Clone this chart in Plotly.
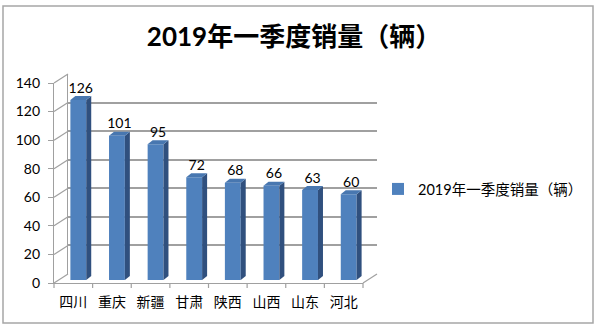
import plotly.graph_objects as go

categories = ["四川", "重庆", "新疆", "甘肃", "陕西", "山西", "山东", "河北"]
values = [126, 101, 95, 72, 68, 66, 63, 60]
y_ticks = [0, 20, 40, 60, 80, 100, 120, 140]
series_name = "2019年一季度销量（辆）"
title_text = "2019年一季度销量（辆）"

W, H = 600, 331
FONT = "Lato, 'Noto Sans CJK SC', sans-serif"

# plane geometry (pixels): front, mid (bars), back wall
FX0, FX1, FY0, FY1 = 54, 363, 283, 83
MID = (5, -3)
BACK = (14, -9)
YMAX = 140
N = len(categories)

def px(x):
    return x / W

def py(y):
    return 1 - y / H

def dom_x(off):
    return [px(FX0 + off[0]), px(FX1 + off[0])]

def dom_y(off):
    return [py(FY0 + off[1]), py(FY1 + off[1])]

FRONT = (0, 0)
xr = [-0.5, N - 0.5]
yr = [0, YMAX]

BAR_W = 0.41
cat_px = (FX1 - FX0) / N
unit_px = (FY0 - FY1) / YMAX
SDX = 5 / cat_px
SDY = 4 / unit_px

C_FRONT = "#4F81BD"
C_SIDE = "#30507E"
C_TOP = "#4877B0"

fig = go.Figure()

# invisible trace so the front axes render their tick labels
fig.add_trace(go.Scatter(x=list(range(N)), y=[None] * N, xaxis="x", yaxis="y",
                         mode="markers", showlegend=False, hoverinfo="skip"))

# front faces (real bar trace, provides legend)
fig.add_trace(go.Bar(
    x=list(range(N)), y=values, width=BAR_W, name=series_name,
    marker=dict(color=C_FRONT, line=dict(width=0)),
    xaxis="x3", yaxis="y3", showlegend=True,
))

# side and top faces computed from values
for i, v in enumerate(values):
    l, r = i - BAR_W / 2, i + BAR_W / 2
    fig.add_trace(go.Scatter(
        x=[r, r + SDX, r + SDX, r, r], y=[0, SDY, v + SDY, v, 0],
        fill="toself", fillcolor=C_SIDE, mode="lines", line=dict(width=0),
        xaxis="x3", yaxis="y3", showlegend=False, hoverinfo="skip",
    ))
    fig.add_trace(go.Scatter(
        x=[l, r, r + SDX, l + SDX, l], y=[v, v, v + SDY, v + SDY, v],
        fill="toself", fillcolor=C_TOP, mode="lines", line=dict(width=0),
        xaxis="x3", yaxis="y3", showlegend=False, hoverinfo="skip",
    ))

# data labels
fig.add_trace(go.Scatter(
    x=[i + SDX / 2 for i in range(N)], y=[v + SDY for v in values],
    text=[str(v) for v in values], mode="text", textposition="top center",
    textfont=dict(family=FONT, size=14, color="#000"),
    xaxis="x3", yaxis="y3", showlegend=False, hoverinfo="skip", cliponaxis=False,
))

# dummy trace for back wall axes
fig.add_trace(go.Scatter(x=[None], y=[None], xaxis="x2", yaxis="y2", showlegend=False))

GRID = "#A0A0A0"

shapes = []
for t in y_ticks:
    yf = FY0 - t * unit_px
    shapes.append(dict(type="line", xref="paper", yref="paper",
                       x0=px(FX0), y0=py(yf), x1=px(FX0 + BACK[0]), y1=py(yf + BACK[1]),
                       line=dict(color=GRID, width=1.2)))
shapes.append(dict(type="line", xref="paper", yref="paper",
                   x0=px(FX1), y0=py(FY0), x1=px(FX1 + BACK[0]), y1=py(FY0 + BACK[1]),
                   line=dict(color=GRID, width=1.2)))
for k in range(N + 1):
    xk = FX0 + k * cat_px
    shapes.append(dict(type="line", xref="paper", yref="paper",
                       x0=px(xk), y0=py(FY0), x1=px(xk), y1=py(FY0 + 5),
                       line=dict(color=GRID, width=1.2)))
shapes.append(dict(type="rect", xref="paper", yref="paper",
                   x0=px(3), y0=py(6), x1=px(593), y1=py(323),
                   line=dict(color="#A6A6A6", width=1.5)))

fig.update_layout(
    width=W, height=H, margin=dict(l=0, r=0, t=0, b=0, autoexpand=False),
    paper_bgcolor="white", plot_bgcolor="rgba(0,0,0,0)",
    font=dict(family=FONT, size=13, color="#000"),
    title=dict(text="<b>" + title_text + "</b>", x=px(294), xanchor="center",
               y=py(37), yanchor="middle", automargin=False,
               font=dict(family=FONT, size=26, color="#000")),
    showlegend=True,
    legend=dict(x=px(378), y=py(189), xanchor="left", yanchor="middle",
                bgcolor="rgba(0,0,0,0)", font=dict(family=FONT, size=14.5, color="#000"),
                itemwidth=30, borderwidth=0),
    shapes=shapes,
    xaxis=dict(domain=dom_x(FRONT), range=xr, anchor="y", automargin=False,
               tickmode="array", tickvals=list(range(N)), ticktext=categories,
               showticklabels=True, showgrid=False, ticklabelstandoff=6,
               zeroline=False, showline=True, linecolor=GRID, linewidth=1.2,
               ticks="", tickfont=dict(family=FONT, size=14, color="#000")),
    yaxis=dict(domain=dom_y(FRONT), range=yr, anchor="x", automargin=False,
               tickmode="array", tickvals=y_ticks, showticklabels=True,
               showgrid=False, zeroline=False, ticklabelstandoff=5,
               showline=True, linecolor=GRID, linewidth=1.2,
               ticks="outside", ticklen=5, tickcolor=GRID,
               tickfont=dict(family=FONT, size=14, color="#000")),
    xaxis2=dict(domain=dom_x(BACK), range=xr, anchor="y2", automargin=False,
                showticklabels=False, showgrid=False, zeroline=False, showline=False),
    yaxis2=dict(domain=dom_y(BACK), range=yr, anchor="x2", tickvals=y_ticks, automargin=False,
                showticklabels=False, showgrid=True, gridcolor=GRID, gridwidth=1.5,
                zeroline=False, showline=True, linecolor=GRID, linewidth=1.2),
    xaxis3=dict(domain=dom_x(MID), range=xr, anchor="y3", automargin=False,
                showticklabels=False, showgrid=False, zeroline=False, showline=False),
    yaxis3=dict(domain=dom_y(MID), range=yr, anchor="x3", automargin=False,
                showticklabels=False, showgrid=False, zeroline=False, showline=False),
)

fig.write_html("out.html")
